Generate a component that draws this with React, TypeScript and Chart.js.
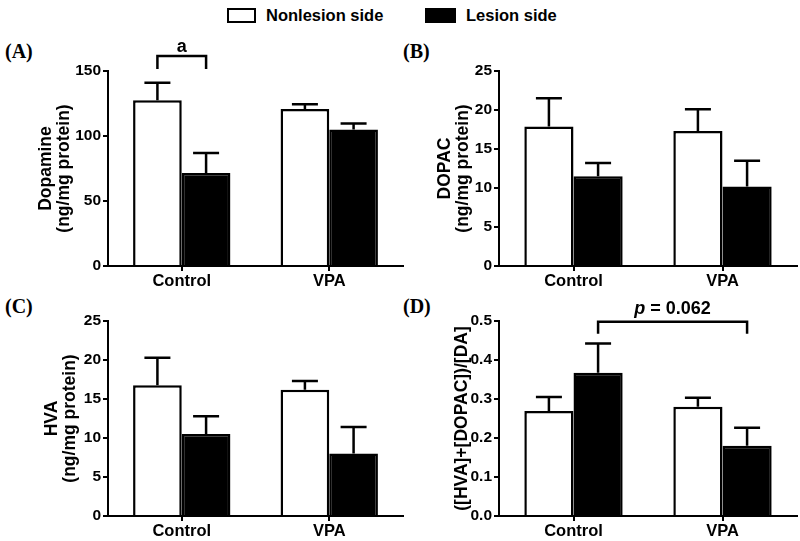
import React, { useEffect, useRef } from 'react';
import { Chart, registerables } from 'chart.js';
Chart.register(...registerables);

const categories = ['Control', 'VPA'];
const seriesNames = ['Nonlesion side', 'Lesion side'];

const dopamineNonlesion = [127.5, 120.8];
const dopamineNonlesionErr = [13.5, 3.6];
const dopamineLesion = [71.5, 105];
const dopamineLesionErr = [15.5, 4.7];

const dopacNonlesion = [17.9, 17.3];
const dopacNonlesionErr = [3.6, 2.8];
const dopacLesion = [11.5, 10.2];
const dopacLesionErr = [1.7, 3.3];

const hvaNonlesion = [16.75, 16.2];
const hvaNonlesionErr = [3.55, 1.1];
const hvaLesion = [10.5, 8.0];
const hvaLesionErr = [2.3, 3.4];

const ratioNonlesion = [0.269, 0.28];
const ratioNonlesionErr = [0.036, 0.023];
const ratioLesion = [0.367, 0.18];
const ratioLesionErr = [0.075, 0.046];

const bracketA = { fromSeries: 0, fromCat: 0, toSeries: 1, toCat: 0, top: 161.5, leg: 151.5, italic: '', text: 'a' };
const bracketD = { fromSeries: 1, fromCat: 0, toSeries: 1, toCat: 1, top: 0.498, leg: 0.467, italic: 'p', text: ' = 0.062' };

const SANS = '"Liberation Sans", Arial, sans-serif';
const SERIF = '"Liberation Serif", "Times New Roman", serif';

type PanelProps = {
  left: number; top: number; width: number; height: number;
  axisW: number; padTop: number; padRight: number; xH: number; titlePad: number;
  yMax: number; step: number; decimals: number; title: string | string[];
  a: number[]; aErr: number[]; b: number[]; bErr: number[];
  bracket?: any;
};

function Panel(p: PanelProps) {
  const ref = useRef<HTMLCanvasElement>(null);
  useEffect(() => {
    const errPlugin = {
      id: 'errs',
      afterDatasetsDraw(chart: any) {
        const ctx = chart.ctx;
        const ys = chart.scales.y;
        ctx.save();
        ctx.strokeStyle = '#000';
        ctx.lineWidth = 2.5;
        chart.data.datasets.forEach((ds: any, i: number) => {
          const meta = chart.getDatasetMeta(i);
          meta.data.forEach((el: any, j: number) => {
            const v = ds.data[j];
            const e = ds.errors[j];
            const yTop = ys.getPixelForValue(v);
            const yE = ys.getPixelForValue(v + e);
            ctx.beginPath();
            ctx.moveTo(el.x, yTop);
            ctx.lineTo(el.x, yE);
            ctx.moveTo(el.x - 13, yE);
            ctx.lineTo(el.x + 13, yE);
            ctx.stroke();
          });
        });
        const br = p.bracket;
        if (br) {
          const x1 = chart.getDatasetMeta(br.fromSeries).data[br.fromCat].x;
          const x2 = chart.getDatasetMeta(br.toSeries).data[br.toCat].x;
          const yt = ys.getPixelForValue(br.top);
          const yl = ys.getPixelForValue(br.leg);
          ctx.beginPath();
          ctx.moveTo(x1, yl);
          ctx.lineTo(x1, yt);
          ctx.lineTo(x2, yt);
          ctx.lineTo(x2, yl);
          ctx.stroke();
          ctx.fillStyle = '#000';
          ctx.textBaseline = 'alphabetic';
          const fi = 'italic bold 18px ' + SANS;
          const fn = 'bold 18px ' + SANS;
          ctx.font = fi;
          const wi = br.italic ? ctx.measureText(br.italic).width : 0;
          ctx.font = fn;
          const wn = ctx.measureText(br.text).width;
          const cx = (x1 + x2) / 2;
          let sx = cx - (wi + wn) / 2;
          const ty = yt - (br.italic ? 8 : 4);
          ctx.textAlign = 'left';
          if (br.italic) {
            ctx.font = fi;
            ctx.fillText(br.italic, sx, ty);
            sx += wi;
          }
          ctx.font = fn;
          ctx.fillText(br.text, sx, ty);
        }
        ctx.restore();
      },
    };
    const chart = new Chart(ref.current!, {
      type: 'bar',
      data: {
        labels: categories,
        datasets: [
          {
            label: seriesNames[0], data: p.a, errors: p.aErr,
            backgroundColor: '#fff', borderColor: '#000', borderWidth: 2.5,
            barPercentage: 1, categoryPercentage: 0.66,
          } as any,
          {
            label: seriesNames[1], data: p.b, errors: p.bErr,
            backgroundColor: '#000', borderColor: '#000', borderWidth: 2.5,
            barPercentage: 1, categoryPercentage: 0.66,
          } as any,
        ],
      },
      options: {
        animation: false,
        responsive: false,
        devicePixelRatio: 1,
        layout: { padding: { top: p.padTop, right: p.padRight, left: 0, bottom: 0 } },
        plugins: { legend: { display: false }, tooltip: { enabled: false } },
        scales: {
          x: {
            afterFit: (s: any) => { s.height = p.xH; },
            grid: { display: true, drawOnChartArea: false, drawTicks: true, tickLength: 5, color: '#000', lineWidth: 2, offset: false },
            border: { display: true, color: '#000', width: 2 },
            ticks: { color: '#000', padding: 1, font: { family: SANS, size: 16.5, weight: 'bold' } },
          },
          y: {
            min: 0, max: p.yMax,
            afterFit: (s: any) => { s.width = p.axisW; },
            grid: { display: true, drawOnChartArea: false, drawTicks: true, tickLength: 5, color: '#000', lineWidth: 2 },
            border: { display: true, color: '#000', width: 2 },
            ticks: {
              stepSize: p.step, color: '#000', padding: 2,
              font: { family: SANS, size: 15.5, weight: 'bold' },
              callback: (v: any) => Number(v).toFixed(p.decimals),
            },
            title: {
              display: true, text: p.title, color: '#000',
              font: { family: SANS, size: 17.5, weight: 'bold', lineHeight: '18px' },
              padding: { top: p.titlePad, bottom: 0 },
            },
          },
        },
      } as any,
      plugins: [errPlugin],
    });
    return () => chart.destroy();
  }, []);
  return (
    <canvas ref={ref} width={p.width} height={p.height}
      style={{ position: 'absolute', left: p.left, top: p.top, width: p.width, height: p.height }} />
  );
}

const labelStyle = (left: number, top: number): React.CSSProperties => ({
  position: 'absolute', left, top, font: 'bold 20px ' + SERIF, lineHeight: '20px', color: '#000',
});

export default function App() {
  return (
    <div style={{ position: 'absolute', left: 0, top: 0, width: 800, height: 541, background: '#fff', overflow: 'hidden' }}>
      <div style={{ position: 'absolute', left: 227, top: 8, width: 29, height: 15, border: '2px solid #000', boxSizing: 'border-box', background: '#fff' }} />
      <div style={{ position: 'absolute', left: 266, top: 5, font: 'bold 16.5px ' + SANS, lineHeight: '20px' }}>{seriesNames[0]}</div>
      <div style={{ position: 'absolute', left: 425, top: 8, width: 31, height: 15, background: '#000' }} />
      <div style={{ position: 'absolute', left: 466, top: 5, font: 'bold 16.5px ' + SANS, lineHeight: '20px' }}>{seriesNames[1]}</div>

      <div style={labelStyle(5, 41)}>(A)</div>
      <div style={labelStyle(403, 41)}>(B)</div>
      <div style={labelStyle(5, 296)}>(C)</div>
      <div style={labelStyle(403, 296)}>(D)</div>

      <Panel left={0} top={30} width={405} height={260} axisW={108} padTop={41} padRight={2} xH={24} titlePad={37}
        yMax={150} step={50} decimals={0} title={['Dopamine', '(ng/mg protein)']}
        a={dopamineNonlesion} aErr={dopamineNonlesionErr} b={dopamineLesion} bErr={dopamineLesionErr} bracket={bracketA} />
      <Panel left={400} top={30} width={400} height={260} axisW={99} padTop={41} padRight={3} xH={24} titlePad={36}
        yMax={25} step={5} decimals={0} title={['DOPAC', '(ng/mg protein)']}
        a={dopacNonlesion} aErr={dopacNonlesionErr} b={dopacLesion} bErr={dopacLesionErr} />
      <Panel left={0} top={280} width={405} height={260} axisW={108} padTop={41} padRight={2} xH={24} titlePad={43}
        yMax={25} step={5} decimals={0} title={['HVA', '(ng/mg protein)']}
        a={hvaNonlesion} aErr={hvaNonlesionErr} b={hvaLesion} bErr={hvaLesionErr} />
      <Panel left={400} top={280} width={400} height={260} axisW={99} padTop={41} padRight={3} xH={24} titlePad={53}
        yMax={0.5} step={0.1} decimals={1} title={'([HVA]+[DOPAC])/[DA]'}
        a={ratioNonlesion} aErr={ratioNonlesionErr} b={ratioLesion} bErr={ratioLesionErr} bracket={bracketD} />
    </div>
  );
}
